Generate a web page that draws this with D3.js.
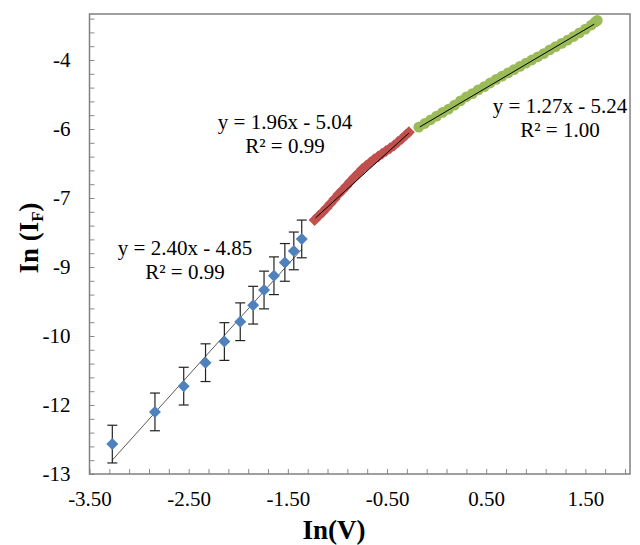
<!DOCTYPE html>
<html>
<head>
<meta charset="utf-8">
<script src="https://cdn.jsdelivr.net/npm/d3@7"></script>
<style>
  body { margin: 0; background: #fff; }
  svg text { font-family: "Liberation Serif", "Times New Roman", serif; }
</style>
</head>
<body>
<div id="chart"></div>
<script>
(function() {
"use strict"

var width = 640, height = 545;

// blue diamonds (with error bars)
var blueX = [-3.27, -2.84, -2.55, -2.33, -2.14, -1.98, -1.85, -1.74, -1.64, -1.53, -1.44, -1.36];
var blueY = [-12.35, -11.65, -11.09, -10.58, -10.12, -9.69, -9.33, -9.00, -8.69, -8.40, -8.15, -7.89];
var blueErr = 0.41;

// red squares (dense band)
var redX = [-1.23, -1.19, -1.15, -1.11, -1.07, -1.03, -0.99, -0.95, -0.91, -0.87, -0.83, -0.79, -0.75,
            -0.71, -0.67, -0.63, -0.59, -0.55, -0.51, -0.47, -0.43, -0.39, -0.35, -0.31, -0.28];
var redY = [-7.48, -7.39, -7.31, -7.22, -7.12, -7.02, -6.92, -6.83, -6.74, -6.64, -6.55, -6.46, -6.37,
            -6.30, -6.23, -6.16, -6.10, -6.04, -5.98, -5.92, -5.86, -5.78, -5.71, -5.63, -5.57];

// green markers (dense band)
var greenX = [-0.18, -0.12, -0.06, 0.00, 0.06, 0.12, 0.18, 0.24, 0.30, 0.36, 0.42, 0.48, 0.54, 0.60, 0.66, 0.72,
              0.78, 0.84, 0.90, 0.96, 1.02, 1.08, 1.14, 1.20, 1.26, 1.32, 1.38, 1.44, 1.50, 1.56, 1.60, 1.62];
var greenY = [-5.46, -5.38, -5.30, -5.22, -5.14, -5.07, -4.98, -4.89, -4.80, -4.73, -4.65, -4.58, -4.50, -4.42, -4.35, -4.28,
              -4.21, -4.14, -4.07, -4.00, -3.93, -3.86, -3.78, -3.71, -3.64, -3.57, -3.49, -3.41, -3.33, -3.24, -3.17, -3.14];

// linear fits: slope, intercept, R2, x-range
var fitSlope = [2.40, 1.96, 1.27];
var fitIntercept = [-4.85, -5.04, -5.24];
var fitR2 = ["0.99", "0.99", "1.00"];
var fitRange = [[-3.27, -1.36], [-1.22, -0.28], [-0.17, 1.59]];

// axis ticks
var xTicks = [-3.5, -2.5, -1.5, -0.5, 0.5, 1.5];
var yTicks = [-13, -11.5, -10, -8.5, -7, -5.5, -4];
var yTickLabels = ["-13", "-12", "-10", "-9", "-7", "-6", "-4"];

var margin = {top: 14, left: 89.5, right: 10, bottom: 71};
var plotW = width - margin.left - margin.right,
    plotH = height - margin.top - margin.bottom;

var svg = d3.select("#chart").append("svg")
    .attr("width", width)
    .attr("height", height);

var g = svg.append("g")
    .attr("transform", "translate(" + margin.left + "," + margin.top + ")");

var xscale = d3.scaleLinear().domain([-3.5, 1.95]).range([0, plotW]);
var yscale = d3.scaleLinear().domain([-13, -3]).range([plotH, 0]);

// minor tick marks (inside)
var xMinor = d3.range(-3.5, 1.95, 0.2);
var yMinor = d3.range(-13, -3.01, 0.3);

g.append("g")
    .attr("transform", "translate(0," + plotH + ")")
    .call(d3.axisBottom(xscale).tickValues(xMinor).tickSize(-5).tickSizeOuter(0).tickFormat(""))
    .call(function(a) { a.select(".domain").remove(); a.selectAll("line").attr("stroke", "#8a8a8a"); });

g.append("g")
    .call(d3.axisLeft(yscale).tickValues(yMinor).tickSize(-5).tickSizeOuter(0).tickFormat(""))
    .call(function(a) { a.select(".domain").remove(); a.selectAll("line").attr("stroke", "#8a8a8a"); });

// tick labels
g.append("g")
    .attr("transform", "translate(0," + plotH + ")")
    .call(d3.axisBottom(xscale).tickValues(xTicks).tickSize(0).tickPadding(17).tickFormat(d3.format(".2f")))
    .call(function(a) {
        a.select(".domain").remove();
        a.selectAll("text").attr("font-size", 21).attr("fill", "#000")
            .style("font-family", "'Liberation Serif', serif")
            .text(function(d) { return d3.format(".2f")(d).replace("−", "-"); });
    });

g.append("g")
    .call(d3.axisLeft(yscale).tickValues(yTicks).tickSize(0).tickPadding(19)
        .tickFormat(function(d, i) { return yTickLabels[i]; }))
    .call(function(a) {
        a.select(".domain").remove();
        a.selectAll("text").attr("font-size", 21).attr("fill", "#000")
            .style("font-family", "'Liberation Serif', serif");
    });

// plot frame
g.append("rect")
    .attr("x", 0).attr("y", 0)
    .attr("width", plotW).attr("height", plotH)
    .attr("fill", "none")
    .attr("stroke", "#808080")
    .attr("stroke-width", 1.5);

var line = d3.line()
    .x(function(d) { return xscale(d[0]); })
    .y(function(d) { return yscale(d[1]); });

var fitPts = function(i) {
    return fitRange[i].map(function(x) { return [x, fitSlope[i] * x + fitIntercept[i]]; });
};

// blue fit line
g.append("path")
    .attr("d", line(fitPts(0)))
    .attr("fill", "none")
    .attr("stroke", "#595959")
    .attr("stroke-width", 1);

// error bars
var blue = blueX.map(function(x, i) { return [x, blueY[i]]; });
var eb = g.append("g").attr("stroke", "#222").attr("stroke-width", 1.2);
blue.forEach(function(d) {
    var cx = xscale(d[0]), y0 = yscale(d[1] - blueErr), y1 = yscale(d[1] + blueErr);
    eb.append("line").attr("x1", cx).attr("x2", cx).attr("y1", y0).attr("y2", y1);
    eb.append("line").attr("x1", cx - 5).attr("x2", cx + 5).attr("y1", y0).attr("y2", y0);
    eb.append("line").attr("x1", cx - 5).attr("x2", cx + 5).attr("y1", y1).attr("y2", y1);
});

g.append("g").selectAll("path")
    .data(blue)
    .enter().append("path")
    .attr("d", d3.symbol().type(d3.symbolDiamond2).size(92))
    .attr("transform", function(d) { return "translate(" + xscale(d[0]) + "," + yscale(d[1]) + ")"; })
    .attr("fill", "#4f81bd");

// red band
var red = redX.map(function(x, i) { return [x, redY[i]]; });
g.append("g").selectAll("path")
    .data(red)
    .enter().append("path")
    .attr("d", d3.symbol().type(d3.symbolSquare).size(72))
    .attr("transform", function(d) { return "translate(" + xscale(d[0]) + "," + yscale(d[1]) + ") rotate(45)"; })
    .attr("fill", "#c0504d");

// green band
var green = greenX.map(function(x, i) { return [x, greenY[i]]; });
g.append("g").selectAll("circle")
    .data(green)
    .enter().append("circle")
    .attr("cx", function(d) { return xscale(d[0]); })
    .attr("cy", function(d) { return yscale(d[1]); })
    .attr("r", 5.4)
    .attr("fill", "#9bbb59");

// red and green fit lines
[1, 2].forEach(function(i) {
    g.append("path")
        .attr("d", line(fitPts(i)))
        .attr("fill", "none")
        .attr("stroke", "#000")
        .attr("stroke-width", 1);
});

// equation labels
var eqPos = [[185, 255], [285, 129], [560, 113]];
eqPos.forEach(function(p, i) {
    var t = svg.append("text")
        .attr("text-anchor", "middle")
        .attr("font-size", 21)
        .attr("fill", "#000");
    t.append("tspan").attr("x", p[0]).attr("y", p[1])
        .text("y = " + fitSlope[i].toFixed(2) + "x - " + Math.abs(fitIntercept[i]).toFixed(2));
    t.append("tspan").attr("x", p[0]).attr("y", p[1] + 24)
        .text("R\u00b2 = " + fitR2[i]);
});

// axis titles
svg.append("text")
    .attr("x", 334).attr("y", 539)
    .attr("text-anchor", "middle")
    .attr("font-size", 27)
    .attr("font-weight", "bold")
    .text("In(V)");

var yt = svg.append("text")
    .attr("transform", "translate(38,238) rotate(-90)")
    .attr("text-anchor", "middle")
    .attr("font-size", 27)
    .attr("font-weight", "bold");
yt.append("tspan").text("In (I");
yt.append("tspan").attr("font-size", 17).attr("dy", 5).text("F");
yt.append("tspan").attr("dy", -5).text(")");

})();
</script>
</body>
</html>
